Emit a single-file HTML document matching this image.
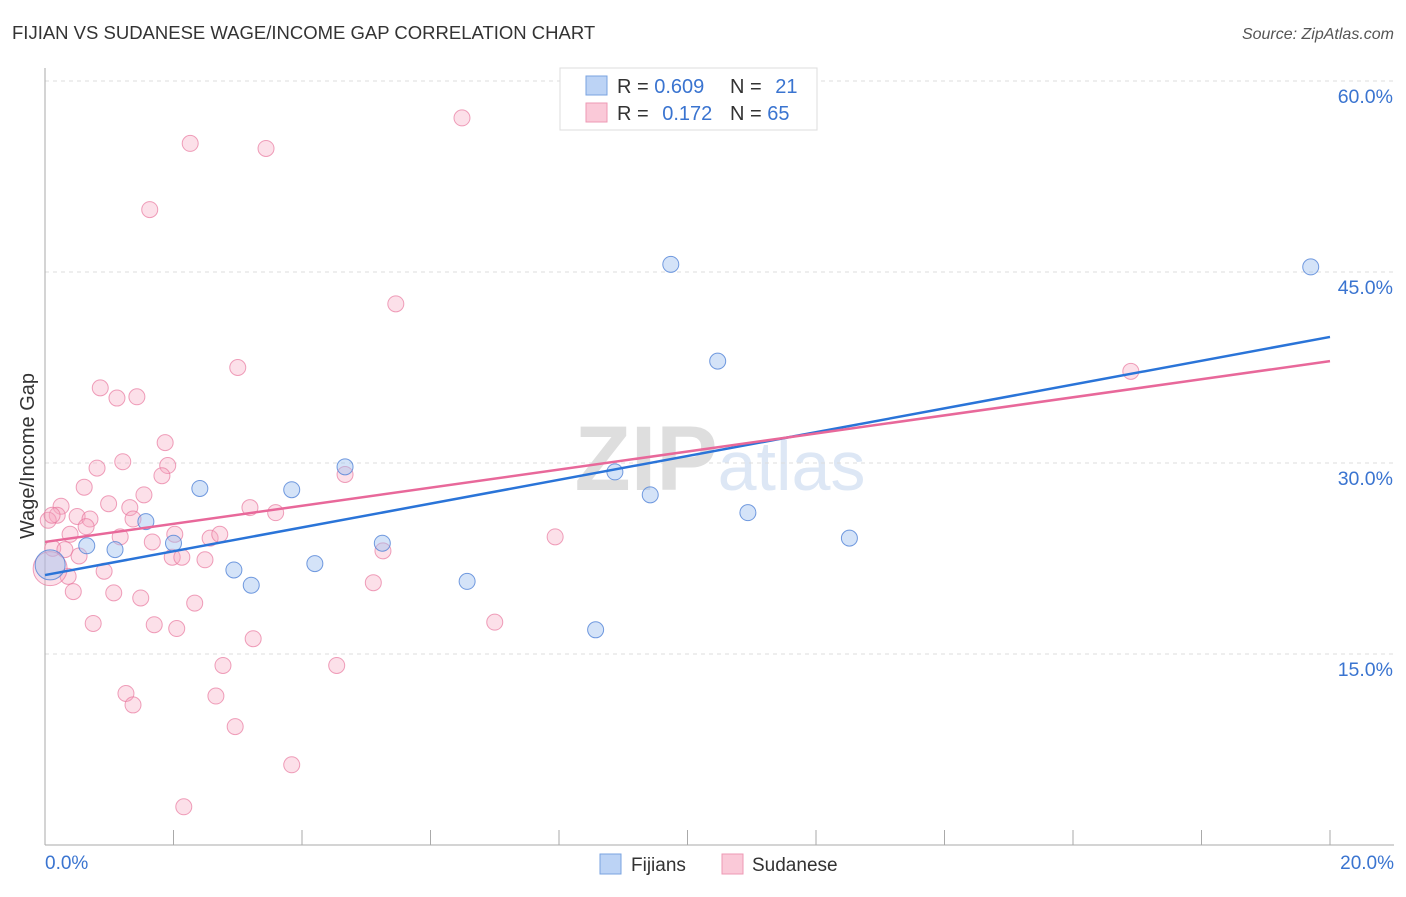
<!DOCTYPE html>
<html><head><meta charset="utf-8"><style>
body{margin:0;background:#fff;font-family:"Liberation Sans",sans-serif}
svg text{font-family:"Liberation Sans",sans-serif}
</style></head><body>
<svg id="chart" width="1406" height="892" viewBox="0 0 1406 892" xmlns="http://www.w3.org/2000/svg">
<text x="12" y="39" font-size="18.5" fill="#333">FIJIAN VS SUDANESE WAGE/INCOME GAP CORRELATION CHART</text>
<text x="1394" y="39" font-size="16" fill="#555" text-anchor="end" font-style="italic">Source: ZipAtlas.com</text>
<text x="720" y="490" font-size="92" text-anchor="middle" fill="#e6e6e6" font-family="Liberation Serif"><tspan fill="#dedede" font-weight="bold">ZIP</tspan><tspan fill="#dde7f5" font-family="Liberation Sans" font-size="70">atlas</tspan></text>
<g id="grid"></g>
<g id="axes"></g>
<g id="pts"></g>
<g id="lines"></g>
<text transform="translate(34,456) rotate(-90)" font-size="20" fill="#333" text-anchor="middle">Wage/Income Gap</text>
<g>
<rect x="560" y="68" width="257" height="62" fill="#fff" stroke="#ddd"/>
<rect x="586" y="76" width="21" height="19" fill="#bcd3f5" stroke="#7aa3e0"/>
<rect x="586" y="103" width="21" height="19" fill="#fac9d8" stroke="#ee99b4"/>
<text x="617" y="93" font-size="20" fill="#333">R = <tspan fill="#3a74d0">0.609</tspan></text>
<text x="730" y="93" font-size="20" fill="#333">N = <tspan fill="#3a74d0" dx="8">21</tspan></text>
<text x="617" y="120" font-size="20" fill="#333">R = <tspan fill="#3a74d0" dx="8">0.172</tspan></text>
<text x="730" y="120" font-size="20" fill="#333">N = <tspan fill="#3a74d0">65</tspan></text>
</g>
<g>
<rect x="600" y="854" width="21" height="20" fill="#bcd3f5" stroke="#7aa3e0"/>
<text x="631" y="871" font-size="19" fill="#333">Fijians</text>
<rect x="722" y="854" width="21" height="20" fill="#fac9d8" stroke="#ee99b4"/>
<text x="752" y="871" font-size="19" fill="#333">Sudanese</text>
</g>
</svg>
<script>
const xTickLabels=["0.0%","20.0%"];
const yTickValues=[15,30,45,60];
const yTickLabels=["15.0%","30.0%","45.0%","60.0%"];
const fijiX=[0.08,0.65,1.09,1.57,2.0,2.41,2.94,3.21,3.84,4.2,4.67,5.25,6.57,8.57,8.87,9.42,9.74,10.47,10.94,12.52,19.7];
const fijiY=[22.0,23.5,23.2,25.4,23.7,28.0,21.6,20.4,27.9,22.1,29.7,23.7,20.7,16.9,29.3,27.5,45.6,38.0,26.1,24.1,45.4];
const fijiSize=[15,8,8,8,8,8,8,8,8,8,8,8,8,8,8,8,8,8,8,8,8];
const sudX=[2.26,3.44,6.49,1.63,5.46,3.0,0.86,1.12,1.43,1.87,1.21,0.81,1.91,1.82,0.61,1.54,0.99,0.25,0.19,0.5,0.7,1.32,3.19,3.59,1.37,0.64,0.39,1.17,1.67,2.57,2.72,2.02,0.12,0.31,0.53,1.98,2.13,2.49,0.92,0.36,0.44,1.07,1.49,2.33,0.75,1.7,2.05,3.24,2.77,4.54,1.26,2.66,1.37,2.96,3.84,2.16,4.67,5.26,5.11,7.0,7.94,16.9,0.08,0.05,0.11];
const sudY=[55.1,54.7,57.1,49.9,42.5,37.5,35.9,35.1,35.2,31.6,30.1,29.6,29.8,29.0,28.1,27.5,26.8,26.6,25.9,25.8,25.6,26.5,26.5,26.1,25.6,25.0,24.4,24.2,23.8,24.1,24.4,24.4,23.3,23.2,22.7,22.6,22.6,22.4,21.5,21.1,19.9,19.8,19.4,19.0,17.4,17.3,17.0,16.2,14.1,14.1,11.9,11.7,11.0,9.3,6.3,3.0,29.1,23.1,20.6,17.5,24.2,37.2,21.7,25.5,25.9];
const sudSize=[8,8,8,8,8,8,8,8,8,8,8,8,8,8,8,8,8,8,8,8,8,8,8,8,8,8,8,8,8,8,8,8,8,8,8,8,8,8,8,8,8,8,8,8,8,8,8,8,8,8,8,8,8,8,8,8,8,8,8,8,8,8,17,8,8];
const fijiLine=[21.2,39.9];
const sudLine=[23.8,38.0];
const X0=45,X1=1330,Y0=845,PXPCT=(845-654)/15;
const sx=v=>X0+(v/20)*(X1-X0);
const sy=v=>Y0-v*PXPCT;
const NS="http://www.w3.org/2000/svg";
function mk(tag,parent,attrs){const e=document.createElementNS(NS,tag);for(const k in attrs)e.setAttribute(k,attrs[k]);document.getElementById(parent).appendChild(e);return e;}
yTickValues.forEach((v,i)=>{
 const g=mk('line','grid',{x1:X0,x2:1394,y1:sy(v),y2:sy(v),stroke:'#ddd','stroke-dasharray':'4,4'});
 
 
 const t=mk('text','axes',{x:1393,y:sy(v)+22,'font-size':19.5,fill:'#3a74d0','text-anchor':'end'});
 t.textContent=yTickLabels[i];
 
 
});
const ax=mk('line','axes',{x1:X0,x2:X0,y1:68,y2:Y0,stroke:'#aaa'});


const bx=mk('line','axes',{x1:X0,x2:1394,y1:Y0,y2:Y0,stroke:'#aaa'});


for(let i=0;i<=10;i++){
 const tk=mk('line','axes',{x1:sx(i*2),x2:sx(i*2),y1:830,y2:Y0,stroke:'#aaa'});
 
 
}
[[0,'start'],[20,'end']].forEach((p,i)=>{
 const t=mk('text','axes',{x:i?1394:45,y:869,'font-size':19,fill:'#3a74d0','text-anchor':p[1]});
 t.textContent=xTickLabels[i];
 
 
});
sudX.forEach((v,i)=>{
 const c=mk('circle','pts',{cx:sx(v),cy:sy(sudY[i]),r:sudSize[i],fill:'rgba(246,166,192,0.35)',stroke:'rgba(232,120,158,0.7)','stroke-width':1});
 
 
});
fijiX.forEach((v,i)=>{
 const c=mk('circle','pts',{cx:sx(v),cy:sy(fijiY[i]),r:fijiSize[i],fill:'rgba(160,192,240,0.45)',stroke:'rgba(80,130,215,0.8)','stroke-width':1});
 
 
});
const l1=mk('line','lines',{x1:sx(0),y1:sy(fijiLine[0]),x2:sx(20),y2:sy(fijiLine[1]),stroke:'#2a74d8','stroke-width':2.5});


const l2=mk('line','lines',{x1:sx(0),y1:sy(sudLine[0]),x2:sx(20),y2:sy(sudLine[1]),stroke:'#e8689a','stroke-width':2.5});


</script>
</body></html>
